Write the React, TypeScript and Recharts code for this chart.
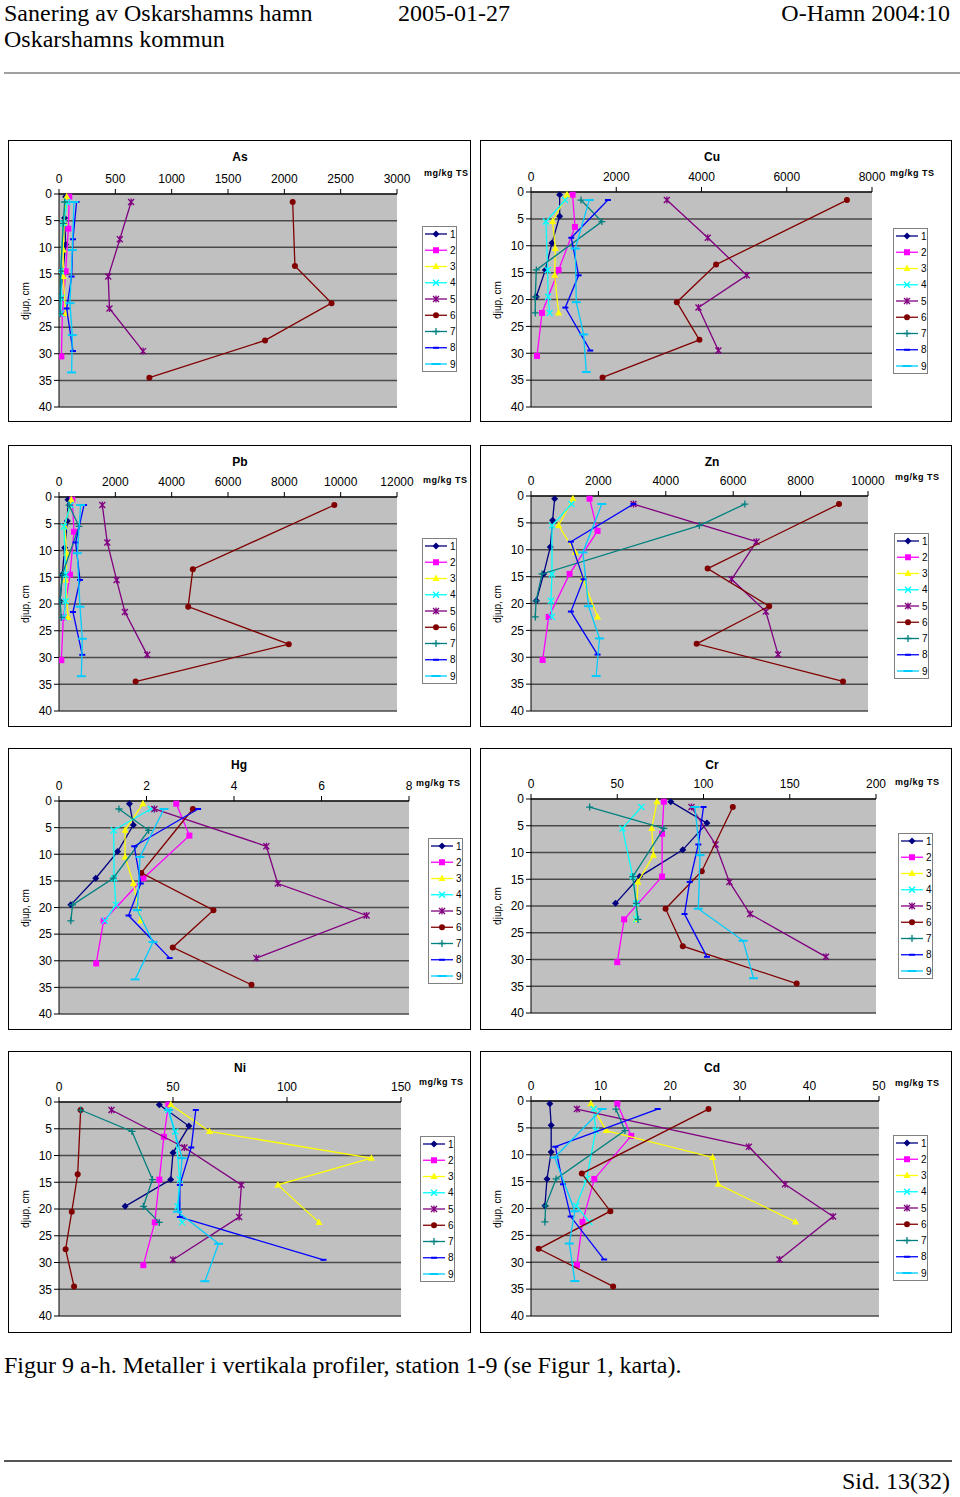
import { ScatterChart, Scatter, XAxis, YAxis, CartesianGrid, Legend } from 'recharts'

const STATIONS = ['1', '2', '3', '4', '5', '6', '7', '8', '9']
const COLORS = ['#000080', '#ff00ff', '#ffff00', '#00ffff', '#800080', '#800000', '#008080', '#0000ff', '#00ccff']
const MARKERS = ['diamond', 'square', 'triangle', 'x', 'star', 'circle', 'plus', 'dash', 'longdash']

// sample depths (cm) per station
const DEPTHS = [
  [0.5, 4.5, 9.5, 14.5, 19.5],
  [0.5, 6.5, 14.5, 22.5, 30.5],
  [0.5, 5.5, 10.5, 15.5, 22.5],
  [1.5, 5.5, 14.5, 19.5, 22.5],
  [1.5, 8.5, 15.5, 21.5, 29.5],
  [1.5, 13.5, 20.5, 27.5, 34.5],
  [1.5, 5.5, 14.5, 19.5, 22.5],
  [1.5, 8.5, 15.5, 21.5, 29.5],
  [1.5, 10.5, 20.5, 26.5, 33.5],
]

const AS_VALUES = [
  [59, 50, 59, 35, 9],
  [91, 83, 59, 30, 21],
  [68, 45, 38, 38, 59],
  [74, 38, 15, 21, 15],
  [640, 540, 437, 448, 746],
  [2074, 2094, 2419, 1829, 802],
  [50, 38, 15, 9, 9],
  [156, 124, 112, 68, 124],
  [133, 118, 97, 118, 112],
]
const CU_VALUES = [
  [672, 672, 492, 336, 125],
  [976, 1031, 648, 258, 141],
  [843, 508, 570, 555, 648],
  [800, 350, 390, 400, 440],
  [3187, 4147, 5061, 3929, 4397],
  [7412, 4342, 3421, 3952, 1679],
  [1172, 1664, 125, 100, 100],
  [1804, 945, 1117, 805, 1390],
  [1367, 1039, 1063, 1234, 1297],
]
const PB_VALUES = [
  [319, 296, 201, 118, 35],
  [473, 532, 390, 154, 83],
  [437, 201, 272, 236, 319],
  [414, 177, 236, 236, 177],
  [1537, 1714, 2045, 2340, 3132],
  [9775, 4752, 4586, 8156, 2719],
  [355, 709, 118, 35, 83],
  [887, 591, 745, 496, 827],
  [768, 650, 745, 827, 792],
]
const ZN_VALUES = [
  [701, 642, 572, 375, 158],
  [1737, 1974, 1145, 523, 345],
  [1244, 819, 1313, 1540, 1974],
  [1200, 622, 622, 592, 622],
  [3040, 6692, 5952, 6968, 7333],
  [9140, 5241, 7067, 4915, 9258],
  [6346, 4994, 326, 150, 128],
  [3040, 1184, 1559, 1184, 1974],
  [2102, 1540, 1707, 2033, 1934],
]
const HG_VALUES = [
  [1.61, 1.7, 1.34, 0.84, 0.27],
  [2.68, 2.98, 1.93, 1.02, 0.85],
  [1.92, 1.51, 1.51, 1.7, 1.87],
  [2.1, 1.25, 1.26, 1.3, 1.05],
  [2.18, 4.74, 5.0, 7.03, 4.51],
  [3.06, 1.88, 3.53, 2.6, 4.4],
  [1.37, 2.05, 1.24, 0.31, 0.27],
  [3.18, 1.72, 1.87, 1.59, 2.53],
  [2.4, 1.85, 1.79, 2.15, 1.74],
]
const CR_VALUES = [
  [81, 102, 88, 63, 49],
  [77, 76, 76, 54, 50],
  [73, 70, 71, 62, 61],
  [64, 53, 59, 61, 61],
  [93, 107, 115, 127, 171],
  [117, 99, 78, 88, 154],
  [34, 77, 59, 61, 62],
  [100, 97, 92, 89, 102],
  [95, 98, 97, 123, 129],
]
const NI_VALUES = [
  [44, 57, 50, 49, 29],
  [48, 46, 44, 42, 37],
  [49, 66, 137, 96, 114],
  [48, 51, 53, 52, 54],
  [23, 55, 80, 79, 50],
  [9.5, 8.2, 5.6, 2.9, 6.6],
  [9.5, 32, 41, 37, 44],
  [60, 58, 53, 53, 116],
  [48, 54, 52, 70, 64],
]
const CD_VALUES = [
  [2.7, 2.9, 2.9, 2.3, 2.0],
  [12.4, 14.4, 9.1, 7.4, 6.6],
  [8.6, 10.8, 26.1, 26.9, 38.0],
  [9.0, 9.3, 8.0, 6.5, 8.4],
  [6.6, 31.3, 36.5, 43.4, 35.7],
  [25.5, 7.3, 11.4, 1.1, 11.8],
  [12.2, 13.5, 3.6, 2.1, 2.0],
  [18.2, 3.5, 4.6, 5.7, 10.5],
  [10.2, 3.4, 6.3, 5.5, 6.3],
]

const DEPTH_TICKS = [0, 5, 10, 15, 20, 25, 30, 35, 40]
const AS_TICKS = [0, 500, 1000, 1500, 2000, 2500, 3000]
const CU_TICKS = [0, 2000, 4000, 6000, 8000]
const PB_TICKS = [0, 2000, 4000, 6000, 8000, 10000, 12000]
const ZN_TICKS = [0, 2000, 4000, 6000, 8000, 10000]
const HG_TICKS = [0, 2, 4, 6, 8]
const CR_TICKS = [0, 50, 100, 150, 200]
const NI_TICKS = [0, 50, 100, 150]
const CD_TICKS = [0, 10, 20, 30, 40, 50]

const UNIT = 'mg/kg TS'
const Y_LABEL = 'djup, cm'

// box: [left, top, width, height], plot: [left, top, right, bottom] in page px
const PANELS = [
  { title: 'As', values: AS_VALUES, ticks: AS_TICKS, box: [8, 140, 463, 282], plot: [59, 194, 397, 407], legend: [422, 226], unit: [424, 173], titleX: 239 },
  { title: 'Cu', values: CU_VALUES, ticks: CU_TICKS, box: [480, 140, 472, 282], plot: [531, 192, 872, 407], legend: [893, 228], unit: [890, 173], titleX: 711 },
  { title: 'Pb', values: PB_VALUES, ticks: PB_TICKS, box: [8, 445, 463, 282], plot: [59, 497, 397, 711], legend: [422, 538], unit: [423, 480], titleX: 239 },
  { title: 'Zn', values: ZN_VALUES, ticks: ZN_TICKS, box: [480, 445, 472, 282], plot: [531, 496, 868, 711], legend: [894, 533], unit: [895, 477], titleX: 711 },
  { title: 'Hg', values: HG_VALUES, ticks: HG_TICKS, box: [8, 748, 463, 282], plot: [59, 801, 409, 1014], legend: [428, 838], unit: [416, 783], titleX: 238 },
  { title: 'Cr', values: CR_VALUES, ticks: CR_TICKS, box: [480, 748, 472, 282], plot: [531, 799, 876, 1013], legend: [898, 833], unit: [895, 782], titleX: 711 },
  { title: 'Ni', values: NI_VALUES, ticks: NI_TICKS, box: [8, 1051, 463, 282], plot: [59, 1102, 401, 1316], legend: [420, 1136], unit: [419, 1082], titleX: 239 },
  { title: 'Cd', values: CD_VALUES, ticks: CD_TICKS, box: [480, 1051, 472, 282], plot: [531, 1101, 879, 1316], legend: [893, 1135], unit: [895, 1083], titleX: 711 },
]

const SANS = '"Liberation Sans", Arial, sans-serif'
const SERIF = '"Liberation Serif", "Times New Roman", serif'

function Marker({ cx, cy, kind, color }: any) {
  if (cx == null || cy == null) return <g />
  switch (kind) {
    case 'diamond':
      return <polygon points={`${cx},${cy - 3.5} ${cx + 3.5},${cy} ${cx},${cy + 3.5} ${cx - 3.5},${cy}`} fill={color} />
    case 'square':
      return <rect x={cx - 3} y={cy - 3} width={6} height={6} fill={color} />
    case 'triangle':
      return <polygon points={`${cx},${cy - 4} ${cx + 3.5},${cy + 2.5} ${cx - 3.5},${cy + 2.5}`} fill={color} />
    case 'x':
      return <path d={`M${cx - 3},${cy - 3}L${cx + 3},${cy + 3}M${cx + 3},${cy - 3}L${cx - 3},${cy + 3}`} stroke={color} strokeWidth={1.3} />
    case 'star':
      return (
        <path
          d={`M${cx - 3},${cy - 3}L${cx + 3},${cy + 3}M${cx + 3},${cy - 3}L${cx - 3},${cy + 3}M${cx},${cy - 3.5}L${cx},${cy + 3.5}`}
          stroke={color}
          strokeWidth={1.3}
        />
      )
    case 'circle':
      return <circle cx={cx} cy={cy} r={3} fill={color} />
    case 'plus':
      return <path d={`M${cx - 3.5},${cy}L${cx + 3.5},${cy}M${cx},${cy - 3.5}L${cx},${cy + 3.5}`} stroke={color} strokeWidth={1.3} />
    case 'dash':
      return <line x1={cx - 3} x2={cx + 3} y1={cy} y2={cy} stroke={color} strokeWidth={2} />
    default:
      return <line x1={cx - 4.5} x2={cx + 4.5} y1={cy} y2={cy} stroke={color} strokeWidth={2} />
  }
}

function LegendBox() {
  const w = 35
  const h = 146
  return (
    <svg width={w} height={h} style={{ display: 'block' }}>
      <rect x={0.5} y={0.5} width={w - 1} height={h - 1} fill="#fff" stroke="#808080" />
      {STATIONS.map((s, i) => {
        const y = 8 + i * 16.25
        return (
          <g key={s}>
            <line x1={3} x2={25} y1={y} y2={y} stroke={COLORS[i]} strokeWidth={1.3} />
            <Marker cx={14} cy={y} kind={MARKERS[i]} color={COLORS[i]} />
            <text x={28} y={y + 3.5} fontSize={10} fontFamily={SANS} fill="#000">
              {s}
            </text>
          </g>
        )
      })}
    </svg>
  )
}

function Panel({ p }: any) {
  const [bx, by, bw, bh] = p.box
  const [pl, pt, pr, pb] = p.plot
  const ox = bx + 1
  const oy = by + 1
  const cw = bw - 2
  const ch = bh - 2
  const yAxisW = 50
  const xAxisH = 20
  const margin = {
    left: pl - ox - yAxisW,
    top: pt - oy - xAxisH,
    right: ox + cw - pr,
    bottom: oy + ch - pb,
  }
  const max = p.ticks[p.ticks.length - 1]

  return (
    <div
      style={{
        position: 'absolute',
        left: bx,
        top: by,
        width: bw,
        height: bh,
        border: '1px solid #000',
        boxSizing: 'border-box',
        background: '#fff',
        fontFamily: SANS,
      }}
    >
      <div style={{ position: 'absolute', left: p.titleX - bx - 40, width: 80, top: 8, textAlign: 'center', fontSize: 12, fontWeight: 'bold', lineHeight: '16px' }}>
        {p.title}
      </div>
      <div style={{ position: 'absolute', left: p.unit[0] - ox, top: p.unit[1] - oy - 6, fontSize: 9, fontWeight: 'bold', letterSpacing: 0.5, lineHeight: '12px', whiteSpace: 'nowrap' }}>
        {UNIT}
      </div>
      <div
        style={{
          position: 'absolute',
          left: 17 - 40,
          top: (pt + pb) / 2 - oy - 7,
          width: 80,
          textAlign: 'center',
          fontSize: 10,
          lineHeight: '14px',
          transform: 'rotate(-90deg)',
          whiteSpace: 'nowrap',
        }}
      >
        {Y_LABEL}
      </div>
      <ScatterChart width={cw} height={ch} margin={margin} style={{ fontFamily: SANS }}>
        <CartesianGrid vertical={false} fill="#c0c0c0" stroke="#4a4a4a" strokeWidth={1.5} />
        <XAxis
          type="number"
          dataKey="v"
          orientation="top"
          domain={[0, max]}
          ticks={p.ticks}
          interval={0}
          height={xAxisH}
          tickSize={5}
          tickMargin={6}
          allowDataOverflow
          axisLine={{ stroke: '#000' }}
          tickLine={{ stroke: '#000' }}
          tick={{ fill: '#000', fontSize: 12 }}
        />
        <YAxis
          type="number"
          dataKey="d"
          reversed
          domain={[0, 40]}
          ticks={DEPTH_TICKS}
          interval={0}
          width={yAxisW}
          tickSize={5}
          axisLine={{ stroke: '#000' }}
          tickLine={{ stroke: '#000' }}
          tick={{ fill: '#000', fontSize: 12 }}
        />
        <Legend
          layout="vertical"
          align="center"
          verticalAlign="middle"
          wrapperStyle={{ left: p.legend[0] - ox, top: p.legend[1] - oy, width: 35, height: 146 }}
          content={() => <LegendBox />}
        />
        {STATIONS.map((s, i) => (
          <Scatter
            key={s}
            name={s}
            data={DEPTHS[i].map((d, j) => ({ d, v: p.values[i][j] }))}
            fill={COLORS[i]}
            line={{ stroke: COLORS[i], strokeWidth: 1.3 }}
            lineType="joint"
            shape={(props: any) => <Marker cx={props.cx} cy={props.cy} kind={MARKERS[i]} color={COLORS[i]} />}
            isAnimationActive={false}
          />
        ))}
      </ScatterChart>
    </div>
  )
}

export default function App() {
  return (
    <div style={{ position: 'absolute', left: 0, top: 0, width: 960, height: 1497, background: '#fff', fontFamily: SERIF, color: '#000' }}>
      <div style={{ position: 'absolute', left: 4, top: 0, fontSize: 24, lineHeight: '26px' }}>
        Sanering av Oskarshamns hamn
        <br />
        Oskarshamns kommun
      </div>
      <div style={{ position: 'absolute', left: 398, top: 0, fontSize: 24, lineHeight: '26px' }}>2005-01-27</div>
      <div style={{ position: 'absolute', right: 10, top: 0, fontSize: 24, lineHeight: '26px' }}>O-Hamn 2004:10</div>
      <div style={{ position: 'absolute', left: 4, top: 72, width: 956, height: 2, background: '#a0a0a0' }} />

      {PANELS.map(p => (
        <Panel key={p.title} p={p} />
      ))}

      <div style={{ position: 'absolute', left: 4, top: 1351, fontSize: 24, lineHeight: '28px', whiteSpace: 'nowrap' }}>
        Figur 9 a-h. Metaller i vertikala profiler, station 1-9 (se Figur 1, karta).
      </div>
      <div style={{ position: 'absolute', left: 4, top: 1460, width: 948, height: 2, background: '#555' }} />
      <div style={{ position: 'absolute', right: 10, top: 1467, fontSize: 24, lineHeight: '28px' }}>Sid. 13(32)</div>
    </div>
  )
}
